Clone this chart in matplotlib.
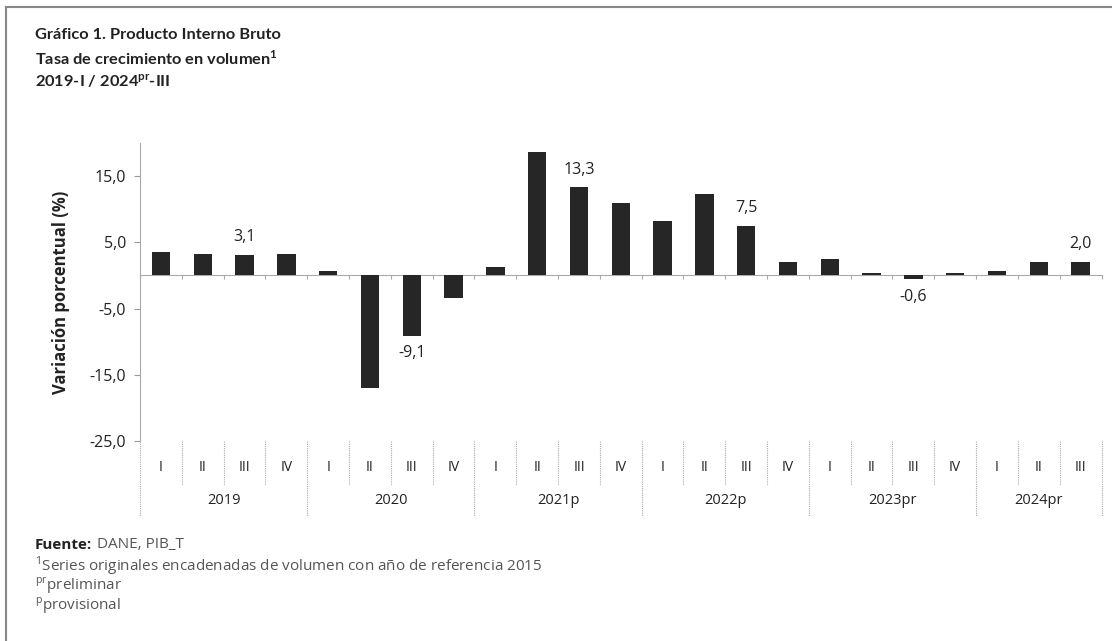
import matplotlib.pyplot as plt
import numpy as np

plt.rcParams['font.family'] = ['Open Sans', 'DejaVu Sans']
plt.rcParams['mathtext.fontset'] = 'custom'
plt.rcParams['mathtext.rm'] = 'Open Sans'
plt.rcParams['mathtext.bf'] = 'Lato:bold'

quarters = ['I', 'II', 'III', 'IV'] * 5 + ['I', 'II', 'III']
years = ['2019', '2020', '2021p', '2022p', '2023pr', '2024pr']
values = [3.5, 3.2, 3.1, 3.2, 0.6, -17.0, -9.1, -3.4, 1.3, 18.6, 13.3, 11.0,
          8.2, 12.3, 7.5, 2.1, 2.5, 0.3, -0.6, 0.4, 0.7, 2.1, 2.0]
labelled = [2, 6, 10, 14, 18, 22]
yticks = [-25, -15, -5, 5, 15]

W, H = 1112, 641
fig = plt.figure(figsize=(W / 100, H / 100), dpi=100)
ax = fig.add_axes([140 / W, 1 - 441 / H, 961.5 / W, 298 / H])

x = np.arange(len(values))
ax.bar(x, values, width=0.44, color='#262626', zorder=3)

for i in labelled:
    v = values[i]
    txt = f"{v:.1f}".replace('.', ',')
    ax.annotate(txt, (x[i], v), xytext=(0, 7 if v > 0 else -7), textcoords='offset points',
                ha='center', va='bottom' if v > 0 else 'top', fontsize=11.5, color='#222')

ax.set_xlim(-0.5, len(values) - 0.5)
ax.set_ylim(-25, 20)
ax.set_yticks(yticks)
ax.set_yticklabels([f"{t:.1f}".replace('.', ',') for t in yticks], fontsize=11.5, color='#222')
ax.tick_params(axis='y', length=4, color='#999', pad=6)

# x axis crosses at zero, quarter boundaries as small ticks
ax.spines['top'].set_visible(False)
ax.spines['right'].set_visible(False)
ax.spines['bottom'].set_position(('data', 0))
ax.spines['bottom'].set_color('#aaa')
ax.spines['left'].set_color('#aaa')
ax.set_xticks(np.arange(-0.5, len(values), 1.0))
ax.set_xticklabels([])
ax.tick_params(axis='x', length=3, color='#aaa')

ax.set_ylabel('Variación porcentual (%)', fontsize=12, fontweight='bold', color='#222', labelpad=14)

# category labels below the plot
trans = ax.get_xaxis_transform()
for i, q in enumerate(quarters):
    ax.text(i, -0.09, q, transform=trans, ha='center', va='center', fontsize=10, color='#222')
for k, yr in enumerate(years):
    start = 4 * k
    end = min(4 * k + 3, len(values) - 1)
    ax.text((start + end) / 2, -0.2, yr, transform=trans, ha='center', va='center',
            fontsize=10.5, color='#222')
for b in np.arange(-0.5, len(values), 1.0):
    is_year = (b + 0.5) % 4 == 0 or b == len(values) - 0.5
    bottom = -0.25 if is_year else -0.148
    ax.plot([b, b], [0, bottom], transform=trans, clip_on=False, color='#aaa',
            lw=0.8, ls=(0, (1, 1)))

# titles
tc = '#222'
tf = ['Lato', 'DejaVu Sans']
fig.text(35 / W, 1 - 35 / H, 'Gráfico 1. Producto Interno Bruto', fontsize=11.8, fontweight='bold',
         color=tc, va='center', family=tf)
fig.text(35 / W, 1 - 58 / H, r'Tasa de crecimiento en volumen$^{\mathbf{1}}$', fontsize=11.8,
         fontweight='bold', color=tc, va='center', family=tf)
fig.text(35 / W, 1 - 81 / H, r'2019-I / 2024$^{\mathbf{pr}}$-III', fontsize=11.8, fontweight='bold',
         color=tc, va='center', family=tf)

# footnotes
fig.text(35 / W, 1 - 545 / H, 'Fuente:', fontsize=11, fontweight='bold', color=tc, va='center')
fig.text(97 / W, 1 - 545 / H, 'DANE, PIB_T', fontsize=11, color='#555', va='center')
fig.text(35 / W, 1 - 566 / H, r'$^{\mathrm{1}}$Series originales encadenadas de volumen con año de referencia 2015',
         fontsize=11, color='#555', va='center')
fig.text(35 / W, 1 - 586 / H, r'$^{\mathrm{pr}}$preliminar', fontsize=11, color='#555', va='center')
fig.text(35 / W, 1 - 606 / H, r'$^{\mathrm{p}}$provisional', fontsize=11, color='#555', va='center')

# frame
fig.add_artist(plt.Line2D([6 / W, 6 / W], [0, 1 - 7 / H], transform=fig.transFigure, color='#888', lw=1.5))
fig.add_artist(plt.Line2D([6 / W, 1], [1 - 7 / H, 1 - 7 / H], transform=fig.transFigure, color='#888', lw=1.5))

fig.savefig('out.png', dpi=100)
